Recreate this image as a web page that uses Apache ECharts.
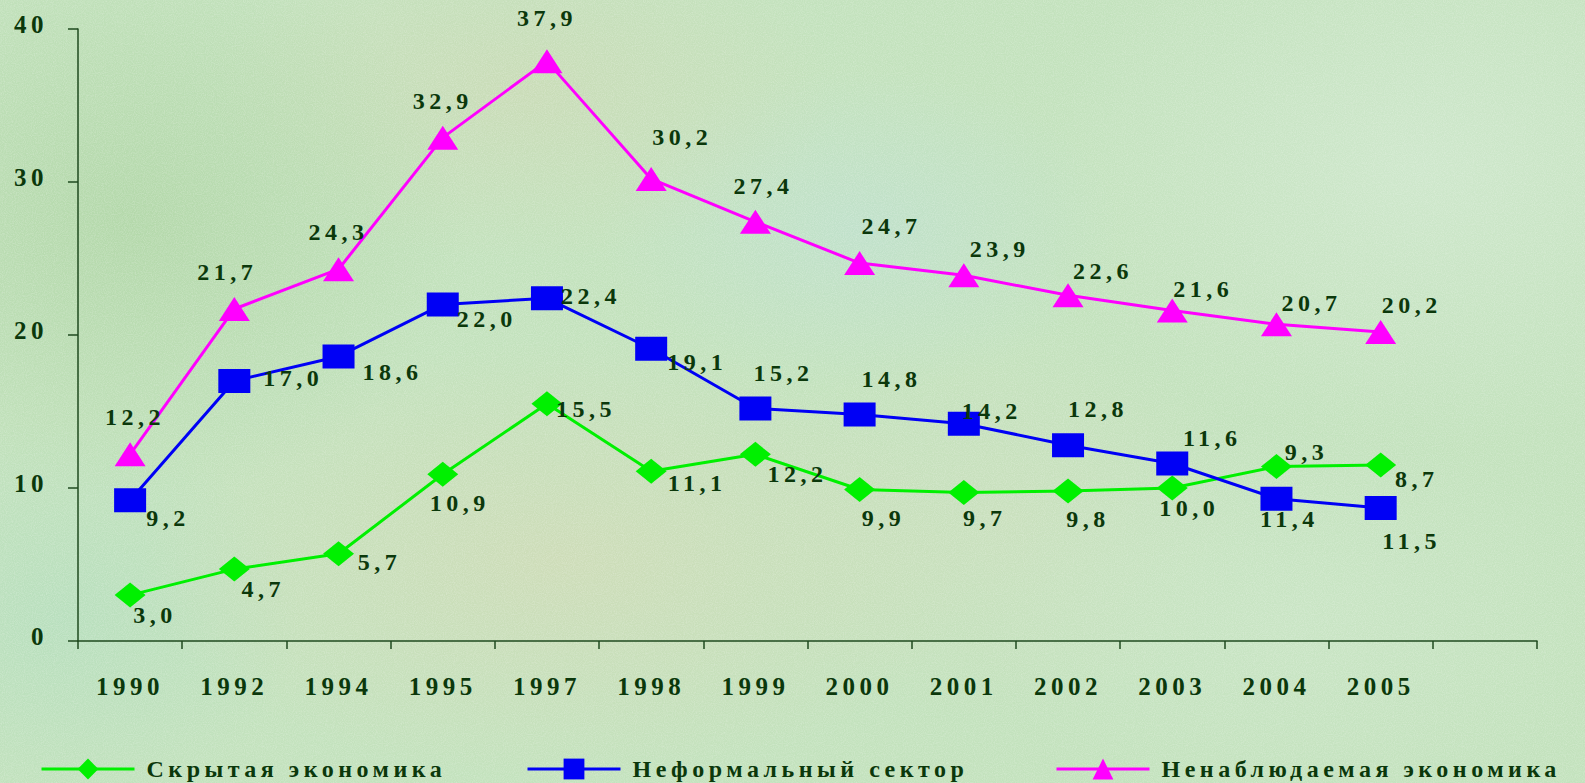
<!DOCTYPE html>
<html>
<head>
<meta charset="utf-8">
<script src="https://cdn.jsdelivr.net/npm/echarts@6/dist/echarts.min.js"></script>
<style>
html,body{margin:0;padding:0;width:1585px;height:783px;overflow:hidden;}
body{
  background-color:#c3e2bd;
  background-image:
    radial-gradient(ellipse 340px 280px at 130px 220px, rgba(176,214,166,0.8), rgba(176,214,166,0) 100%),
    radial-gradient(ellipse 420px 220px at 560px 560px, rgba(210,218,182,0.7), rgba(210,218,182,0) 100%),
    radial-gradient(ellipse 320px 170px at 520px 90px, rgba(206,216,180,0.6), rgba(206,216,180,0) 100%),
    radial-gradient(ellipse 260px 160px at 860px 230px, rgba(190,224,214,0.55), rgba(190,224,214,0) 100%),
    radial-gradient(ellipse 380px 280px at 1420px 170px, rgba(208,232,206,0.85), rgba(208,232,206,0) 100%),
    radial-gradient(ellipse 320px 200px at 1300px 620px, rgba(204,230,200,0.7), rgba(204,230,200,0) 100%),
    radial-gradient(ellipse 260px 200px at 1000px 520px, rgba(208,222,190,0.5), rgba(208,222,190,0) 100%),
    radial-gradient(ellipse 240px 200px at 60px 620px, rgba(180,222,190,0.7), rgba(180,222,190,0) 100%);
}
#tex{position:absolute;left:0;top:0;width:1585px;height:783px;opacity:0.3;
  background-image:url("data:image/svg+xml;utf8,<svg xmlns='http://www.w3.org/2000/svg' width='400' height='400'><filter id='n'><feTurbulence type='fractalNoise' baseFrequency='0.9' numOctaves='2' stitchTiles='stitch'/><feColorMatrix values='0 0 0 0 1  0 0 0 0 1  0 0 0 0 1  0 0 0 1.4 -0.5'/></filter><rect width='400' height='400' filter='url(%23n)'/></svg>");}
#chart{position:absolute;left:0;top:0;width:1585px;height:783px;}
#chart svg text{letter-spacing:4.5px;}
</style>
</head>
<body>
<div id="tex"></div>
<div id="chart"></div>
<script>
// ---- data ----
const years = ['1990','1992','1994','1995','1997','1998','1999','2000','2001','2002','2003','2004','2005'];
const hiddenEconomy   = [3.0, 4.7, 5.7, 10.9, 15.5, 11.1, 12.2, 9.9, 9.7, 9.8, 10.0, 11.4, 11.5];
const informalSector  = [9.2, 17.0, 18.6, 22.0, 22.4, 19.1, 15.2, 14.8, 14.2, 12.8, 11.6, 9.3, 8.7];
const unobservedEcon  = [12.2, 21.7, 24.3, 32.9, 37.9, 30.2, 27.4, 24.7, 23.9, 22.6, 21.6, 20.7, 20.2];
const seriesNames = ['Скрытая экономика', 'Неформальный сектор', 'Ненаблюдаемая экономика'];
const yTicks = [0, 10, 20, 30, 40];

// ---- label placement (style only) ----
const greenOffsets = [[25,20],[29,20],[41,8],[17,29],[39,5],[46,12],[42,20],[24,28],[21,25],[20,28],[17,20],[13,52],[31,76]];
const blueOffsets  = [[38,18],[59,-3],[54,16],[44,15],[44,-2],[46,13],[28,-35],[32,-36],[28,-13],[30,-36],[40,-26],[30,-47],[36,-29]];
const pinkOffsets  = [[5,-37],[-7,-37],[0,-37],[0,-37],[0,-43],[31,-42],[8,-36],[32,-37],[36,-26],[35,-24],[31,-22],[35,-21],[31,-27]];

const FONT = '"Liberation Serif", "Times New Roman", serif';
const TXT = '#0b380b';
const AXIS = '#1f4a1f';

function withOffsets(vals, offs){
  return vals.map((v,i)=>({value:v, label:{offset:offs[i]}}));
}
const fmt = p => Number(p.value).toFixed(1).replace('.', ',');
const labelBase = {show:true, position:'inside', formatter:fmt, color:TXT, fontFamily:FONT, fontWeight:'bold', fontSize:24};

const chart = echarts.init(document.getElementById('chart'), null, {renderer:'svg'});
const legendBase = {
  top: 752, itemWidth: 93, itemHeight: 26,
  lineStyle:{width:3},
  textStyle:{color:TXT, fontFamily:FONT, fontWeight:'bold', fontSize:24, lineHeight:24, padding:[0,0,0,7]}
};
chart.setOption({
  animation:false,
  backgroundColor:'transparent',
  grid:{left:78, right:48, top:29, bottom:142},
  legend:[
    Object.assign({}, legendBase, {left:35, data:[seriesNames[0]]}),
    Object.assign({}, legendBase, {left:521, data:[seriesNames[1]]}),
    Object.assign({}, legendBase, {left:1050, data:[seriesNames[2]]})
  ],
  xAxis:{
    type:'category', data:years, boundaryGap:true, max:13,
    axisLine:{lineStyle:{color:AXIS, width:1.5}},
    axisTick:{show:true, length:8, lineStyle:{color:AXIS, width:1.5}},
    axisLabel:{margin:33, color:TXT, fontFamily:FONT, fontWeight:'bold', fontSize:25,
      formatter:(v)=> years.indexOf(String(v))>=0 ? v : ''},
    splitLine:{show:false}
  },
  yAxis:{
    type:'value', min:yTicks[0], max:yTicks[yTicks.length-1], interval:10,
    axisLine:{show:true, lineStyle:{color:AXIS, width:1.5}},
    axisTick:{show:true, length:10, lineStyle:{color:AXIS, width:1.5}},
    axisLabel:{margin:30, color:TXT, fontFamily:FONT, fontWeight:'bold', fontSize:25,
      verticalAlign:'bottom', lineHeight:10},
    splitLine:{show:false}
  },
  series:[
    {name:seriesNames[0], type:'line', data:withOffsets(hiddenEconomy, greenOffsets),
     symbol:'diamond', symbolSize:[31,25], lineStyle:{color:'#00f000', width:3},
     itemStyle:{color:'#00f000'}, label:labelBase},
    {name:seriesNames[1], type:'line', data:withOffsets(informalSector, blueOffsets),
     symbol:'rect', symbolSize:[32,24], lineStyle:{color:'#0000f5', width:3},
     itemStyle:{color:'#0000f5'}, label:labelBase},
    {name:seriesNames[2], type:'line', data:withOffsets(unobservedEcon, pinkOffsets),
     symbol:'triangle', symbolSize:[31,24], lineStyle:{color:'#ff00ff', width:3},
     itemStyle:{color:'#ff00ff'}, label:labelBase}
  ]
});
</script>
</body>
</html>
